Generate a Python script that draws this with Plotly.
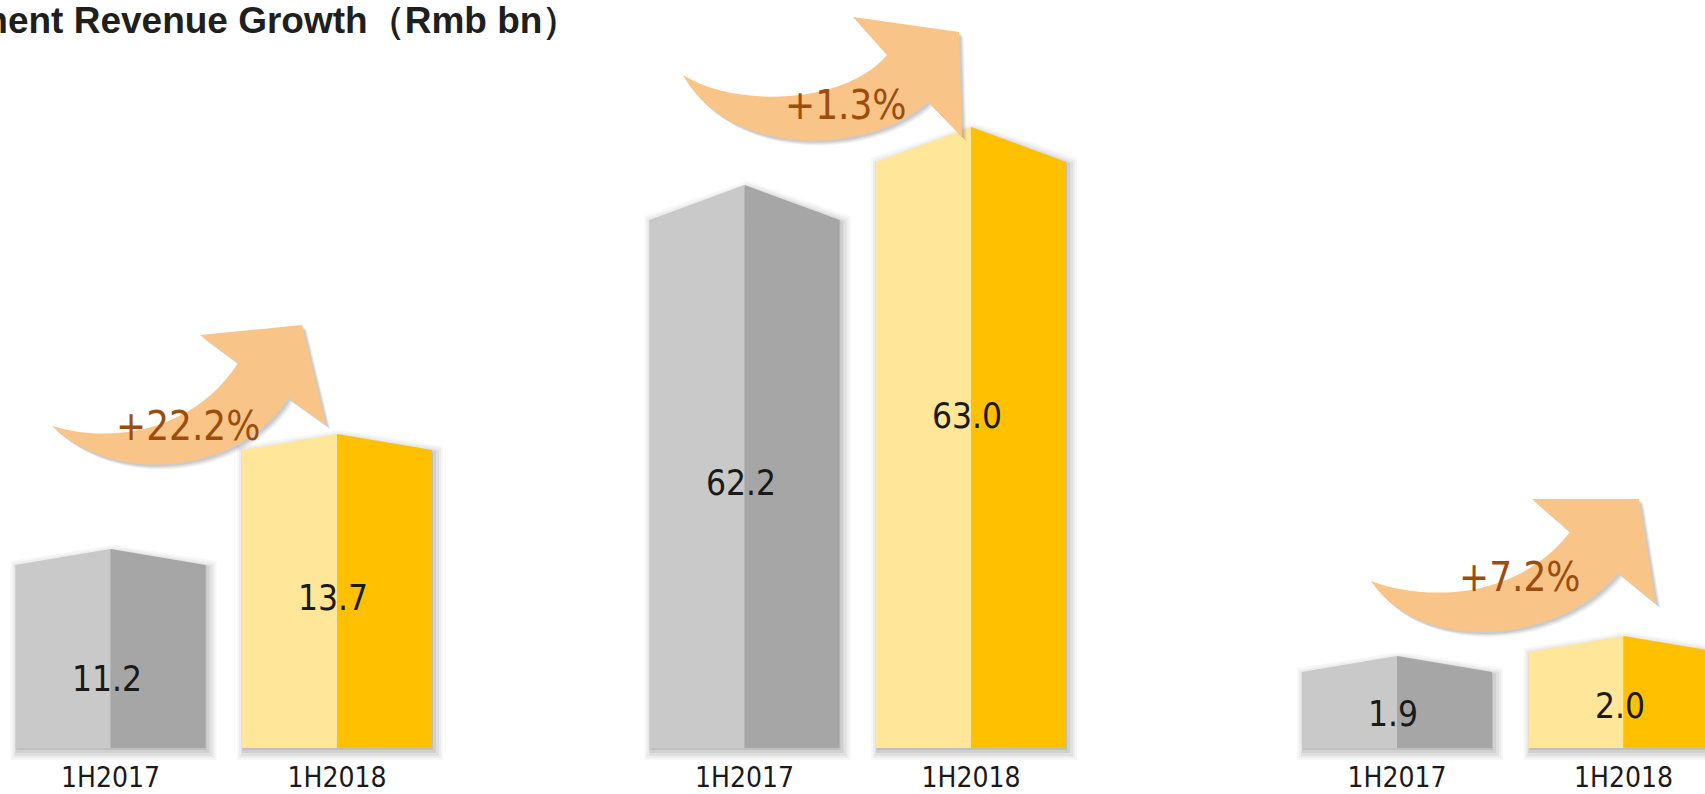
import plotly.graph_objects as go

# ---------------- data ----------------
categories = ["1H2017", "1H2018"]
segment_a = [11.2, 13.7]
segment_b = [62.2, 63.0]
segment_c = [1.9, 2.0]
growth_text = ["+22.2%", "+1.3%", "+7.2%"]
title_text = "ment Revenue Growth（Rmb bn）"

groups = [segment_a, segment_b, segment_c]

# ---------------- layout constants (pixels) ----------------
W, H = 1705, 794
BASE_PX = 748            # bar bottom
CAT_PX = 226.5           # distance between category centres
BAR_PX = 190             # bar width
cat0_px = [110.5, 744.5, 1397]
xdom_px = [(0, 470), (520, 1160), (1165, W)]
px_per_unit = [46.0, 72.5, 200.0]
axis_base = [7.222, 54.917, 1.52]
roof_px = [16, 35, 16]
label_yshift = [[-22, 1], [1, 39], [-4, -6]]

LIGHT = ["#C9C9C9", "#FFE699"]
DARK = ["#A6A6A6", "#FFC000"]
ARROW_COL = "#F9C487"
ARROW_TXT = "#9C4D0E"
NARROW = "DejaVu Sans Condensed, Liberation Sans Narrow, Arial Narrow, sans-serif"

SHADOW_LAYERS = [(8, 3, 4, 0.03), (6, 3, 4, 0.04), (4, 3, 4, 0.05), (2, 2, 3, 0.07), (0, 1, 2, 0.08)]

fig = go.Figure()
shapes = []
annotations = []
w = BAR_PX / CAT_PX

for g, vals in enumerate(groups):
    sfx = "" if g == 0 else str(g + 1)
    xa, ya = "x" + sfx, "y" + sfx
    a = px_per_unit[g]
    b = axis_base[g]
    xu = 1.0 / CAT_PX
    yu = 1.0 / a
    dyr = roof_px[g] * yu
    xs = list(range(len(categories)))

    # soft drop shadows (below traces)
    for (e, dx, dy, alpha) in SHADOW_LAYERS:
        for i, v in enumerate(vals):
            xl = i - w / 2 + (dx - e) * xu
            xr = i + w / 2 + (dx + e) * xu
            xm = i + dx * xu
            yb = b - (e + dy) * yu
            yc = v + (e - dy) * yu
            yp = v + dyr + (e - dy) * yu
            path = f"M{xl},{yb} L{xl},{yc} L{xm},{yp} L{xr},{yc} L{xr},{yb} Z"
            shapes.append(dict(type="path", path=path, xref=xa, yref=ya, layer="below",
                               fillcolor=f"rgba(0,0,0,{alpha})", line=dict(width=0)))

    # bar faces
    fig.add_trace(go.Bar(x=xs, y=[v - b for v in vals], base=b, offset=-w / 2, width=w / 2,
                         marker=dict(color=LIGHT, line=dict(width=0)),
                         xaxis=xa, yaxis=ya, hoverinfo="skip", showlegend=False))
    fig.add_trace(go.Bar(x=xs, y=[v - b for v in vals], base=b, offset=0, width=w / 2,
                         marker=dict(color=DARK, line=dict(width=0)),
                         xaxis=xa, yaxis=ya, hoverinfo="skip", showlegend=False))

    # roofs
    for i, v in enumerate(vals):
        lo = v - 1.5 * yu
        fig.add_trace(go.Scatter(x=[i - w / 2, i - w / 2, i, i], y=[lo, v, v + dyr, lo],
                                 fill="toself", mode="lines", fillcolor=LIGHT[i],
                                 line=dict(width=0, color=LIGHT[i]), xaxis=xa, yaxis=ya,
                                 hoverinfo="skip", showlegend=False))
        fig.add_trace(go.Scatter(x=[i, i, i + w / 2, i + w / 2], y=[lo, v + dyr, v, lo],
                                 fill="toself", mode="lines", fillcolor=DARK[i],
                                 line=dict(width=0, color=DARK[i]), xaxis=xa, yaxis=ya,
                                 hoverinfo="skip", showlegend=False))
        annotations.append(dict(x=i, y=(b + v) / 2, xref=xa, yref=ya, text=f"{v:.1f}",
                                showarrow=False, xshift=-4, yshift=label_yshift[g][i],
                                font=dict(family=NARROW, size=35, color="#1A1A1A")))

    d0, d1 = xdom_px[g]
    r0 = -(cat0_px[g] - d0) / CAT_PX
    r1 = r0 + (d1 - d0) / CAT_PX
    fig.update_layout({
        "xaxis" + sfx: dict(domain=[d0 / W, d1 / W], range=[r0, r1], anchor="free",
                            position=1 - BASE_PX / H, tickvals=xs, ticktext=categories,
                            ticks="outside", ticklen=4, tickcolor="rgba(0,0,0,0)",
                            showgrid=False, zeroline=False, showline=False, automargin=False,
                            tickfont=dict(family=NARROW, size=28, color="#1A1A1A"),
                            fixedrange=True),
        "yaxis" + sfx: dict(domain=[0, 1], range=[b - (H - BASE_PX) / a, b + BASE_PX / a],
                            anchor=xa, visible=False, fixedrange=True, automargin=False),
    })

# ---------------- curved growth arrows (decoration, pixel space) ----------------
ARROWS = [
    dict(T=(52, 426), t1=(115, 445), t2=(195, 430), A=(238, 363), B=(200, 335), C=(302, 325),
         D=(326, 425), E=(288, 398), b1=(245, 470), b2=(120, 490), txt=(188, 426)),
    dict(T=(683, 75), t1=(735, 108), t2=(845, 105), A=(887, 55), B=(853, 17), C=(959, 32),
         D=(962, 137), E=(928, 102), b1=(870, 155), b2=(730, 160), txt=(846, 105)),
    dict(T=(1371, 581), t1=(1420, 600), t2=(1515, 603), A=(1570, 532), B=(1532, 499), C=(1639, 499),
         D=(1656, 604), E=(1618, 573), b1=(1560, 645), b2=(1420, 655), txt=(1520, 577)),
]


def P(pt, dx=0, dy=0):
    return f"{(pt[0] + dx) / W:.5f},{1 - (pt[1] + dy) / H:.5f}"


def arrow_path(ar, dx=0, dy=0):
    return (f"M{P(ar['T'], dx, dy)} C{P(ar['t1'], dx, dy)} {P(ar['t2'], dx, dy)} {P(ar['A'], dx, dy)} "
            f"L{P(ar['B'], dx, dy)} L{P(ar['C'], dx, dy)} L{P(ar['D'], dx, dy)} L{P(ar['E'], dx, dy)} "
            f"C{P(ar['b1'], dx, dy)} {P(ar['b2'], dx, dy)} {P(ar['T'], dx, dy)} Z")


for k, ar in enumerate(ARROWS):
    for (dx, dy, al) in [(5, 5, 0.04), (4, 4, 0.05), (3, 3, 0.06), (2, 2, 0.07)]:
        shapes.append(dict(type="path", path=arrow_path(ar, dx, dy), xref="paper", yref="paper",
                           layer="above", fillcolor=f"rgba(0,0,0,{al})", line=dict(width=0)))
    shapes.append(dict(type="path", path=arrow_path(ar), xref="paper", yref="paper",
                       layer="above", fillcolor=ARROW_COL, line=dict(width=0)))
    tx, ty = ar["txt"]
    annotations.append(dict(x=tx / W, y=1 - ty / H, xref="paper", yref="paper", text=growth_text[k],
                            showarrow=False, xanchor="center", yanchor="middle",
                            font=dict(family=NARROW, size=40, color=ARROW_TXT)))

# ---------------- title ----------------
annotations.append(dict(x=-27 / W, y=1, xref="paper", yref="paper", xanchor="left", yanchor="top",
                        text=f"<b>{title_text}</b>", showarrow=False, yshift=2,
                        font=dict(family="Liberation Sans, Arial, sans-serif", size=37, color="#1F1F1F")))

fig.update_layout(
    width=W, height=H, autosize=False,
    margin=dict(l=0, r=0, t=0, b=0, pad=0),
    paper_bgcolor="white", plot_bgcolor="rgba(0,0,0,0)",
    showlegend=False, hovermode=False, barmode="overlay",
    shapes=shapes, annotations=annotations,
)

fig.write_html("out.html", config={"displayModeBar": False})
